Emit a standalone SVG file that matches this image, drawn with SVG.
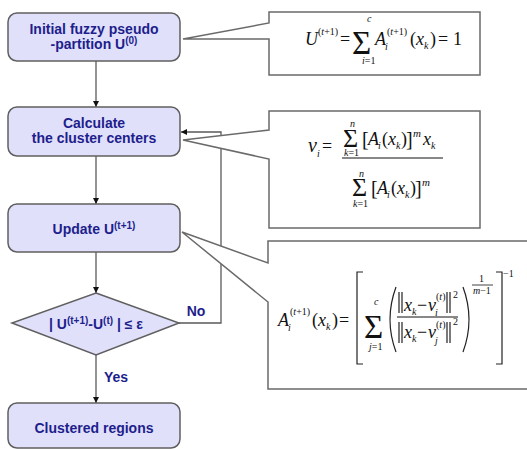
<svg xmlns="http://www.w3.org/2000/svg" width="527" height="449" viewBox="0 0 527 449">
<style>
.box{fill:#e0e0fa;stroke:#5f5f5f;stroke-width:1.5}
.lbl{font-family:"Liberation Sans",Arial,sans-serif;font-weight:bold;font-size:14px;fill:#1e1e8c;text-anchor:middle}
.sup{font-size:10px}
.call{fill:#fff;stroke:#6a6a6a;stroke-width:1.5}
.con{fill:none;stroke:#5a5a5a;stroke-width:1.3}
.f{font-family:"Liberation Serif","Times New Roman",serif;font-size:18px;fill:#111}
.i{font-style:italic}
.s{font-size:10px}
.s11{font-size:11px}
.b33{font-size:33px}
.b26{font-size:26px}
.b20{font-size:20px}
.br{fill:none;stroke:#222;stroke-width:1.2}
</style>
<defs>
<marker id="ah" markerUnits="userSpaceOnUse" markerWidth="6" markerHeight="6" refX="6" refY="3" orient="auto">
<path d="M0,0 L6,3 L0,6 Z" fill="#111"/>
</marker>
</defs>

<g id="connectors">
<line class="con" x1="96" y1="61" x2="96" y2="107" marker-end="url(#ah)"/>
<line class="con" x1="96" y1="156" x2="96" y2="204" marker-end="url(#ah)"/>
<line class="con" x1="96" y1="252" x2="96" y2="293" marker-end="url(#ah)"/>
<line class="con" x1="96" y1="355" x2="96" y2="403" marker-end="url(#ah)"/>
<polyline class="con" points="179,323 221,323 221,132 181,132" marker-end="url(#ah)"/>
<text class="lbl" x="196" y="316">No</text>
<text class="lbl" x="116" y="382">Yes</text>
</g>

<g id="n1">
<rect class="box" x="8" y="13" width="172" height="48" rx="9"/>
<text class="lbl" x="94" y="34">Initial fuzzy pseudo</text>
<text class="lbl" x="94" y="49">-partition U<tspan class="sup" dy="-5">(0)</tspan></text>
</g>
<g id="n2">
<rect class="box" x="8" y="107" width="172" height="49" rx="9"/>
<text class="lbl" x="94" y="128">Calculate</text>
<text class="lbl" x="94" y="143">the cluster centers</text>
</g>
<g id="n3">
<rect class="box" x="8" y="204" width="172" height="48" rx="9"/>
<text class="lbl" x="94" y="234">Update U<tspan class="sup" dy="-5">(t+1)</tspan></text>
</g>
<g id="n4">
<polygon class="box" points="96,293 179,323 96,355 12,323"/>
<text class="lbl" x="96" y="329">| U<tspan class="sup" dy="-5">(t+1)</tspan><tspan dy="5">-U</tspan><tspan class="sup" dy="-5">(t)</tspan><tspan dy="5"> | ≤ ε</tspan></text>
</g>
<g id="n5">
<rect class="box" x="8" y="403" width="172" height="45" rx="9"/>
<text class="lbl" x="94" y="433">Clustered regions</text>
</g>

<g id="eqA">
<path class="call" d="M269,12 H480 V75 H269 V39 L183,39 L269,23 Z"/>
<text class="f i" x="305" y="45">U</text>
<text class="f s" x="318" y="35">(<tspan class="i">t</tspan>+1)</text>
<text class="f" x="340" y="45">=</text>
<text class="f b33" x="352" y="54">Σ</text>
<text class="f s i" x="367" y="22">c</text>
<text class="f s" x="362" y="64"><tspan class="i">i</tspan>=1</text>
<text class="f i" x="375" y="45">A</text>
<text class="f s i" x="385" y="50">i</text>
<text class="f s" x="387" y="35">(<tspan class="i">t</tspan>+1)</text>
<text class="f" x="410" y="45">(</text>
<text class="f i" x="416" y="45">x</text>
<text class="f s i" x="424" y="49">k</text>
<text class="f" x="430" y="45">)</text>
<text class="f" x="438" y="45">=</text>
<text class="f" x="453" y="45">1</text>
</g>

<g id="eqB">
<path class="call" d="M269,111 H480 V228 H269 V159 L183,140 L269,130 Z"/>
<text class="f i b20" x="308" y="152">v</text>
<text class="f s i" x="317" y="157">i</text>
<text class="f" x="322" y="152">=</text>
<line x1="342" y1="158" x2="443" y2="158" stroke="#111" stroke-width="1"/>
<text class="f b26" x="343" y="147">Σ</text>
<text class="f s i" x="350" y="127">n</text>
<text class="f s" x="344" y="156"><tspan class="i">k</tspan>=1</text>
<text class="f b20" x="362" y="146">[</text>
<text class="f i" x="368" y="145">A</text>
<text class="f s i" x="378" y="149">i</text>
<text class="f" x="382" y="145">(</text>
<text class="f i" x="388" y="145">x</text>
<text class="f s i" x="396" y="149">k</text>
<text class="f" x="401" y="145">)</text>
<text class="f b20" x="406" y="146">]</text>
<text class="f s11 i" x="413" y="137">m</text>
<text class="f i" x="423" y="145">x</text>
<text class="f s i" x="431" y="149">k</text>
<text class="f b26" x="352" y="196">Σ</text>
<text class="f s i" x="359" y="177">n</text>
<text class="f s" x="353" y="207"><tspan class="i">k</tspan>=1</text>
<text class="f b20" x="371" y="195">[</text>
<text class="f i" x="377" y="194">A</text>
<text class="f s i" x="387" y="198">i</text>
<text class="f" x="391" y="194">(</text>
<text class="f i" x="397" y="194">x</text>
<text class="f s i" x="405" y="198">k</text>
<text class="f" x="410" y="194">)</text>
<text class="f b20" x="415" y="195">]</text>
<text class="f s11 i" x="422" y="186">m</text>
</g>

<g id="eqC">
<path class="call" d="M268,241 H530 V389 H268 V302 L182,232 L268,263 Z"/>
<text class="f i" x="278" y="326">A</text>
<text class="f s i" x="288" y="331">i</text>
<text class="f s" x="290" y="315">(<tspan class="i">t</tspan>+1)</text>
<text class="f" x="312" y="326">(</text>
<text class="f i" x="318" y="326">x</text>
<text class="f s i" x="326" y="330">k</text>
<text class="f" x="332" y="326">)</text>
<text class="f" x="339" y="326">=</text>
<path class="br" d="M363,272 H357 V364 H363"/>
<text class="f b33" x="364" y="338">Σ</text>
<text class="f s i" x="374" y="305">c</text>
<text class="f s" x="369" y="350"><tspan class="i">j</tspan>=1</text>
<path class="br" d="M396,287 Q384,319.5 396,352"/>
<path class="br" d="M399,292 V313 M402,292 V313"/>
<text class="f i" x="404" y="311">x</text>
<text class="f s i" x="412" y="315">k</text>
<text class="f" x="417" y="311">−</text>
<text class="f i" x="428" y="311">v</text>
<text class="f s i" x="435" y="316">i</text>
<text class="f s" x="436" y="300">(<tspan class="i">t</tspan>)</text>
<path class="br" d="M447,292 V313 M450,292 V313"/>
<text class="f s" x="453" y="298">2</text>
<line x1="397" y1="317" x2="458" y2="317" stroke="#111" stroke-width="1"/>
<path class="br" d="M399,322 V343 M402,322 V343"/>
<text class="f i" x="404" y="338">x</text>
<text class="f s i" x="412" y="342">k</text>
<text class="f" x="417" y="338">−</text>
<text class="f i" x="428" y="338">v</text>
<text class="f s i" x="435" y="344">j</text>
<text class="f s" x="436" y="328">(<tspan class="i">t</tspan>)</text>
<path class="br" d="M447,322 V343 M450,322 V343"/>
<text class="f s" x="453" y="325">2</text>
<path class="br" d="M463,287 Q475,319.5 463,352"/>
<text class="f s" x="479" y="282">1</text>
<line x1="472" y1="285" x2="493" y2="285" stroke="#111" stroke-width="0.8"/>
<text class="f s" x="473" y="294"><tspan class="i">m</tspan>−1</text>
<path class="br" d="M496,272 H502 V364 H496"/>
<text class="f s" x="503" y="277">−1</text>
</g>
</svg>
